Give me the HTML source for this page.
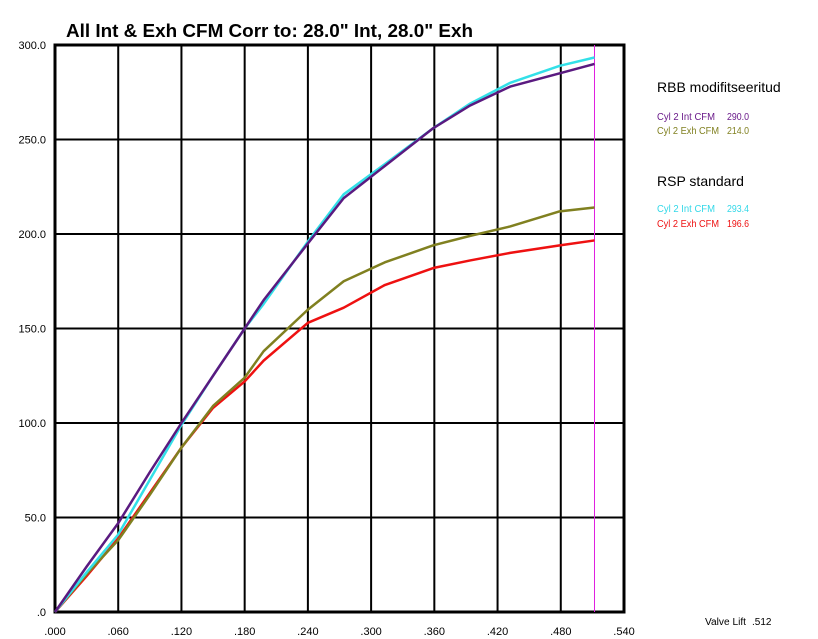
<!DOCTYPE html>
<html><head><meta charset="utf-8"><style>
body{margin:0;background:#fff;}
svg{display:block;font-family:"Liberation Sans",Arial,sans-serif;}
</style></head><body>
<svg id="chart" width="818" height="639"></svg>
<script>
const lifts=[0,.030,.060,.090,.120,.150,.180,.198,.240,.274,.313,.359,.394,.432,.479,.512];
const rbbInt=[0,24,47,74,100,125,150,165,195,219,236,256,268,278,285,290];
const rbbExh=[0,20,38,62,87,109,124,138,160,175,185,194,199,204,212,214];
const rspInt=[0,21,41,70,99,125,150,163,196,221,237,256,269,280,289,293.4];
const rspExh=[0,19,39,63,87,108,122,133,153,161,173,182,186,190,194,196.6];
const xTicks=[0,.06,.12,.18,.24,.30,.36,.42,.48,.54];
const xTickLabels=[".000",".060",".120",".180",".240",".300",".360",".420",".480",".540"];
const yTicks=[0,50,100,150,200,250,300];
const yTickLabels=[".0","50.0","100.0","150.0","200.0","250.0","300.0"];
const valveLift=.512;
const L=55,R=624,T=45,B=612;
const X=v=>L+(v/.54)*(R-L);
const Y=v=>B-(v/300)*(B-T);
const svg=document.getElementById('chart');
const NS='http://www.w3.org/2000/svg';
function mk(tag,attrs,text){const e=document.createElementNS(NS,tag);for(const k in attrs)e.setAttribute(k,attrs[k]);if(text!==undefined)e.textContent=text;svg.appendChild(e);return e;}
let e;
e=mk('text',{x:66,y:37,'font-size':18,'font-weight':'bold',fill:'#000',textLength:407,lengthAdjust:'spacingAndGlyphs'},'All Int & Exh CFM   Corr to: 28.0" Int, 28.0" Exh');


xTicks.forEach((t,i)=>{
  e=mk('line',{x1:X(t),x2:X(t),y1:T,y2:B,stroke:'#000','stroke-width':2});
  
  
  e=mk('text',{x:X(t),y:635,'font-size':11,'text-anchor':'middle',fill:'#000'},xTickLabels[i]);
  
  
});
yTicks.forEach((t,i)=>{
  e=mk('line',{x1:L,x2:R,y1:Y(t),y2:Y(t),stroke:'#000','stroke-width':2});
  
  
  e=mk('text',{x:46,y:Y(t)+4,'font-size':11,'text-anchor':'end',fill:'#000'},yTickLabels[i]);
  
  
});
e=mk('rect',{x:L,y:T,width:R-L,height:B-T,fill:'none',stroke:'#000','stroke-width':3});


e=mk('line',{x1:X(valveLift),x2:X(valveLift),y1:T,y2:B,stroke:'#e020e0','stroke-width':1});


const series=[[rspExh,'#ee1111','rsp-exh-line'],[rbbExh,'#808020','rbb-exh-line'],[rspInt,'#33e0e8','rsp-int-line'],[rbbInt,'#5a1a80','rbb-int-line']];
series.forEach(s=>{
  e=mk('polyline',{points:lifts.map((l,i)=>X(l)+','+Y(s[0][i])).join(' '),fill:'none',stroke:s[1],'stroke-width':2.5,'stroke-linejoin':'round'});
  
  
});
function txt(x,y,sz,col,t,name,w){const a={x:x,y:y,'font-size':sz,fill:col};if(w){a.textLength=w;a.lengthAdjust='spacingAndGlyphs';}e=mk('text',a,t);}
txt(657,92,14,'#000','RBB modifitseeritud','legend-group-rbb');
txt(657,120,10,'#6a1a8a','Cyl 2 Int CFM','legend-rbb-int',58);
txt(727,120,10,'#6a1a8a',rbbInt[rbbInt.length-1].toFixed(1),'legend-rbb-int-value',22);
txt(657,134,10,'#808020','Cyl 2 Exh CFM','legend-rbb-exh',62);
txt(727,134,10,'#808020',rbbExh[rbbExh.length-1].toFixed(1),'legend-rbb-exh-value',22);
txt(657,186,14,'#000','RSP standard','legend-group-rsp');
txt(657,212,10,'#33d8e8','Cyl 2 Int CFM','legend-rsp-int',58);
txt(727,212,10,'#33d8e8',rspInt[rspInt.length-1].toFixed(1),'legend-rsp-int-value',22);
txt(657,227,10,'#ee1111','Cyl 2 Exh CFM','legend-rsp-exh',62);
txt(727,227,10,'#ee1111',rspExh[rspExh.length-1].toFixed(1),'legend-rsp-exh-value',22);
txt(705,625,10,'#000','Valve Lift','valve-lift-label',41);
txt(752,625,10,'#000','.512','valve-lift-value');
</script>
</body></html>
